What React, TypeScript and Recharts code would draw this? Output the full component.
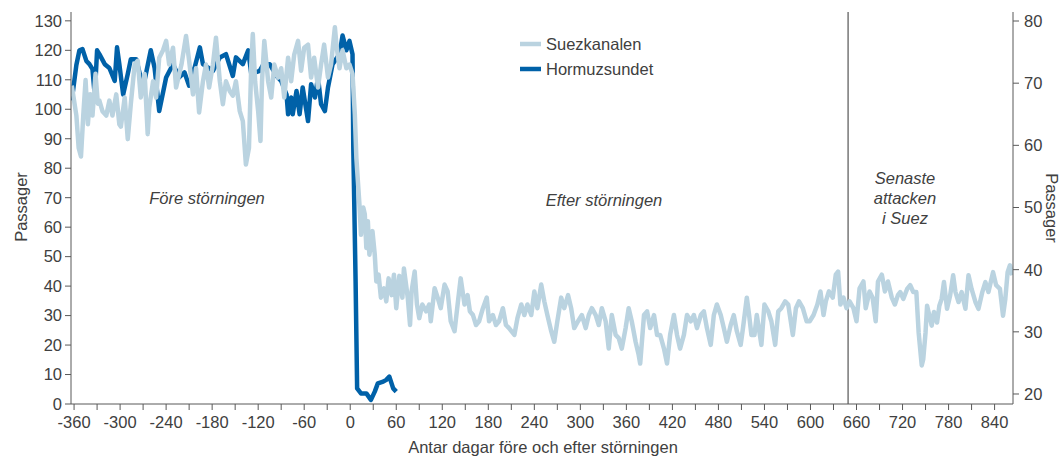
import { LineChart, Line, XAxis, YAxis, ReferenceLine, Customized } from 'recharts';

// Suezkanalen, passager per dag (höger axel)
const suezPoints: [number, number][] = [
  [-363, 69.6], [-357, 64.8], [-354, 59.6], [-351, 58.2], [-348, 64.8], [-345, 70.5], [-342, 63.4],
  [-339, 68.2], [-336, 64.8], [-332, 71.5], [-329, 66.7], [-327, 67.2], [-323, 65.5], [-318, 64.8],
  [-314, 67.2], [-310, 64.8], [-305, 68.2], [-301, 63.4], [-299, 63], [-294, 67.7], [-290, 61],
  [-286, 66.7], [-281, 73], [-277, 73.6], [-273, 67.7], [-268, 71.5], [-264, 61.8], [-262, 66.1],
  [-257, 70.3], [-253, 67.7], [-249, 74.1], [-244, 75.3], [-240, 76.8], [-236, 73], [-231, 75.7],
  [-227, 69.3], [-220, 73], [-214, 77.6], [-210, 73.6], [-205, 68.2], [-201, 72.4], [-197, 65.3],
  [-192, 70.3], [-188, 73], [-184, 69.3], [-179, 73], [-175, 77.3], [-170, 70.3], [-166, 66.6],
  [-162, 70.3], [-157, 68.7], [-153, 68], [-149, 70.3], [-144, 65.5], [-140, 63.9], [-136, 56.9],
  [-132, 59.6], [-129, 73], [-127, 77.9], [-124, 70.3], [-120, 65.5], [-117, 60.7], [-115, 70.3],
  [-112, 76.8], [-107, 70.3], [-103, 67.7], [-99, 73], [-94, 70.9], [-90, 72.4], [-86, 67.7],
  [-81, 74.1], [-77, 70.3], [-73, 74.6], [-68, 76.8], [-64, 72], [-60, 75.7], [-55, 76.2],
  [-51, 70.9], [-47, 74.1], [-42, 69.3], [-38, 73], [-34, 76.2], [-29, 70.9], [-25, 73], [-20, 79],
  [-18, 76.2], [-14, 72.4], [-10, 75.3], [-5, 72.4], [-1, 73], [3, 71.5], [6, 65], [8, 58],
  [10, 54.2], [12, 50.5], [14, 45.6], [17, 50], [19, 48.9], [21, 43.5], [23, 47.8], [25, 42.4],
  [29, 46.2], [32, 42.4], [34, 38.1], [37, 39.2], [40, 35.5], [44, 37], [47, 34.9], [50, 38.6],
  [54, 35.9], [57, 39.2], [60, 33.8], [64, 39], [68, 35.5], [70, 40.2], [75, 35.5], [78, 31.1],
  [80, 36.5], [84, 39.7], [87, 34.4], [90, 32.2], [94, 34.4], [99, 33.3], [103, 34.4], [105, 31.7],
  [110, 37], [114, 35.5], [118, 33.8], [123, 37.6], [127, 36.5], [131, 31.7], [136, 30.1],
  [140, 34.4], [144, 38.6], [149, 34.4], [153, 35.9], [156, 33.3], [160, 32.7], [164, 31.1],
  [168, 31.7], [173, 33.8], [178, 35.5], [181, 31.7], [186, 32.7], [190, 31.1], [194, 31.7],
  [199, 33.8], [203, 31.1], [207, 30.6], [214, 29.5], [218, 32.2], [223, 34.4], [227, 32.7],
  [231, 34.4], [236, 32.7], [240, 36.5], [244, 33.8], [249, 37.6], [253, 34.9], [257, 32.7],
  [262, 30.1], [266, 28.4], [270, 31.7], [275, 35.5], [279, 33.8], [284, 35.9], [288, 33.8],
  [292, 30.6], [297, 31.7], [302, 32.7], [307, 30.6], [311, 32.7], [315, 33.8], [320, 32.7],
  [324, 31.1], [328, 33.8], [333, 31.7], [337, 27.3], [341, 32.7], [346, 29.5], [350, 29],
  [354, 27.3], [359, 30.6], [363, 33.8], [367, 31.7], [372, 28.4], [376, 26.3], [378, 24.9],
  [383, 32.7], [387, 33.3], [391, 30.6], [396, 32.7], [400, 29.5], [404, 29.5], [409, 27.3],
  [413, 24.9], [417, 29.5], [422, 32.7], [426, 29.5], [430, 27.3], [435, 29.5], [439, 32.7],
  [444, 31.7], [448, 32.7], [452, 30.6], [457, 32.7], [461, 33.3], [465, 30.6], [470, 27.9],
  [474, 32.7], [478, 34.4], [483, 32.7], [487, 30.6], [491, 28.4], [496, 31.1], [500, 32.7],
  [504, 30.1], [509, 27.9], [512, 30.6], [517, 35.5], [520, 32.7], [523, 29.5], [527, 29.5],
  [530, 32.7], [534, 29.5], [536, 27.9], [540, 34.4], [545, 33.3], [549, 31.7], [554, 27.9],
  [558, 33.3], [562, 33.8], [567, 34.9], [571, 34.4], [577, 29.5], [581, 33.8], [585, 34.9],
  [590, 33.8], [595, 31.7], [599, 31.7], [604, 32.7], [609, 34.4], [613, 36.5], [617, 32.7],
  [620, 34.9], [624, 36.5], [629, 35.5], [633, 39.2], [636, 39.7], [639, 34.4], [643, 35.5],
  [647, 33.8], [651, 34.9], [656, 33.8], [660, 31.7], [664, 37], [669, 38.1], [672, 33.8],
  [677, 36.5], [681, 35.5], [685, 31.7], [688, 38.1], [693, 39.2], [697, 36.5], [701, 38.1],
  [706, 35.5], [710, 34.4], [714, 35.9], [717, 36.4], [721, 35.3], [726, 36.9], [730, 37.5],
  [734, 36.4], [738, 36.4], [741, 29.9], [745, 24.6], [747, 25.6], [750, 29.9], [752, 34.2],
  [755, 32.6], [758, 31], [761, 33.2], [765, 31.5], [768, 34.2], [771, 35.3], [774, 38],
  [778, 33.7], [782, 35.8], [786, 39.1], [789, 36.4], [793, 34.8], [797, 36.4], [802, 33.7],
  [806, 39.1], [810, 36.9], [815, 34.8], [819, 33.7], [824, 36.4], [828, 38], [832, 36.4],
  [838, 39.6], [842, 37.5], [847, 36.9], [851, 32.6], [854, 35.3], [857, 39.6], [860, 40.7],
  [863, 39.1],
];

// Hormuzsundet, passager per dag (vänster axel)
const hormuzPoints: [number, number][] = [
  [-363, 103], [-357, 115], [-353, 120], [-349, 120.4], [-344, 116.4], [-340, 115.3], [-336, 113.6],
  [-333, 104.6], [-330, 120], [-327, 118.7], [-320, 115.3], [-314, 114], [-307, 109.6], [-304, 121],
  [-301, 115.3], [-296, 105], [-290, 112], [-286, 117], [-279, 117], [-270, 107.4], [-260, 120],
  [-255, 114], [-249, 99.4], [-240, 110.8], [-231, 115.3], [-223, 110.8], [-216, 112.5], [-210, 108],
  [-203, 114], [-196, 121], [-192, 115.3], [-179, 113], [-170, 117.6], [-162, 118.7], [-153, 111.3],
  [-149, 117.6], [-140, 115.3], [-133, 120], [-129, 112], [-118, 113], [-113, 115.3], [-105, 115.3],
  [-96, 111.3], [-90, 109.6], [-83, 105], [-81, 98.3], [-77, 104], [-75, 98.3], [-70, 106.2],
  [-66, 98.3], [-62, 107.4], [-55, 96], [-51, 108.5], [-46, 104], [-42, 110.8], [-38, 101.7],
  [-33, 99.4], [-29, 107.4], [-23, 115.3], [-14, 118.7], [-10, 125], [-5, 120], [-1, 123.2],
  [3, 118.7], [4, 87], [7, 41.6], [9, 5.3], [14, 3.6], [21, 3.6], [27, 1.4], [32, 4.2], [36, 7],
  [43, 7.6], [47, 8.2], [51, 9.3], [56, 5.3], [60, 4.2],
];

const dayTicks = [
  -360, -330, -300, -270, -240, -210, -180, -150, -120, -90, -60, -30, 0, 30, 60, 90, 120, 150,
  180, 210, 240, 270, 300, 330, 360, 390, 420, 450, 480, 510, 540, 570, 600, 630, 660, 690, 720,
  750, 780, 810, 840,
];
const leftTicks = [0, 10, 20, 30, 40, 50, 60, 70, 80, 90, 100, 110, 120, 130];
const rightTicks = [20, 30, 40, 50, 60, 70, 80];
const lastAttackDay = 649;

const suezData = suezPoints.map(([day, value]) => ({ day, value }));
const hormuzData = hormuzPoints.map(([day, value]) => ({ day, value }));

const FONT = '"Liberation Sans", Arial, sans-serif';
const TEXT = '#404040';
const AXIS = '#595959';
const SUEZ = '#bad3e0';
const HORMUZ = '#0061a8';
const FS = 16.5;

const tickStyle = { fill: TEXT, fontSize: FS, fontFamily: FONT };

const Annotations = () => (
  <g fontFamily={FONT} fill={TEXT} fontSize={FS}>
    <text x={21} y={207} transform="rotate(-90, 21, 207)" textAnchor="middle" dominantBaseline="central">
      Passager
    </text>
    <text x={1052} y={208} transform="rotate(90, 1052, 208)" textAnchor="middle" dominantBaseline="central">
      Passager
    </text>
    <text x={543} y={447} textAnchor="middle" dominantBaseline="central">
      Antar dagar före och efter störningen
    </text>
    <g fontStyle="italic">
      <text x={207} y={198} textAnchor="middle" dominantBaseline="central">Före störningen</text>
      <text x={604} y={200} textAnchor="middle" dominantBaseline="central">Efter störningen</text>
      <text x={905} y={178} textAnchor="middle" dominantBaseline="central">Senaste</text>
      <text x={905} y={198} textAnchor="middle" dominantBaseline="central">attacken</text>
      <text x={905} y={218} textAnchor="middle" dominantBaseline="central">i Suez</text>
    </g>
    <line x1={520} x2={541} y1={44} y2={44} stroke={SUEZ} strokeWidth={4.5} />
    <text x={546} y={44} dominantBaseline="central">Suezkanalen</text>
    <line x1={520} x2={541} y1={69} y2={69} stroke={HORMUZ} strokeWidth={4.5} />
    <text x={546} y={69} dominantBaseline="central">Hormuzsundet</text>
  </g>
);

export default function App() {
  return (
    <div style={{ position: 'absolute', left: 0, top: 0, background: '#fff' }}>
      <LineChart width={1061} height={457} margin={{ top: 12, right: 0, bottom: 0, left: 0 }}>
        <XAxis
          dataKey="day"
          type="number"
          domain={[-364, 864]}
          ticks={dayTicks}
          tickFormatter={(v: number) => (v % 60 === 0 ? String(v) : '')}
          interval={0}
          height={53}
          tickSize={6}
          tickMargin={6}
          tick={tickStyle}
          stroke={AXIS}
          allowDataOverflow
        />
        <XAxis
          xAxisId="top"
          orientation="top"
          type="number"
          domain={[-364, 864]}
          height={0}
          tick={false}
          tickLine={false}
          stroke={AXIS}
        />
        <YAxis
          yAxisId="left"
          domain={[0, 133]}
          ticks={leftTicks}
          interval={0}
          width={71}
          tickSize={6}
          tickMargin={3}
          tick={tickStyle}
          stroke={AXIS}
          allowDataOverflow
        />
        <YAxis
          yAxisId="right"
          orientation="right"
          domain={[18.39, 81.45]}
          ticks={rightTicks}
          interval={0}
          width={48}
          tickSize={6}
          tickMargin={5}
          tick={tickStyle}
          stroke={AXIS}
          allowDataOverflow
        />
        <ReferenceLine x={lastAttackDay} yAxisId="left" stroke="#333" strokeWidth={1} />
        <Line
          data={hormuzData}
          dataKey="value"
          yAxisId="left"
          type="linear"
          stroke={HORMUZ}
          strokeWidth={4.5}
          strokeLinejoin="round"
          dot={false}
          isAnimationActive={false}
        />
        <Line
          data={suezData}
          dataKey="value"
          yAxisId="right"
          type="linear"
          stroke={SUEZ}
          strokeWidth={4.5}
          strokeLinejoin="round"
          dot={false}
          isAnimationActive={false}
        />
        <Customized component={<Annotations />} />
      </LineChart>
    </div>
  );
}
